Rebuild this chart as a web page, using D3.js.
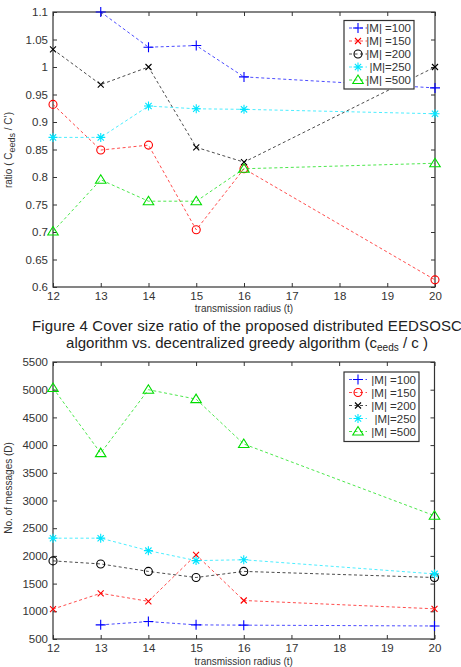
<!DOCTYPE html>
<meta charset='utf-8'>
<style>
	body { margin: 0; background: #fff; }
	svg { display: block; font-family: 'Liberation Sans', Arial, sans-serif; }
</style>
<body>
<div id='container'></div>
<script src='https://cdn.jsdelivr.net/npm/d3@7'></script>
<script>
	// transmission radius (t)
	const radii = [ 12, 13, 14, 15, 16, 20 ];
	const seriesNames = [ '|M| =100', '|M| =150', '|M| =200', '|M|=250', '|M| =500' ];

	// cover size ratio (top panel)
	const ratio100 = [ null, 1.1, 1.036, 1.039, 0.982, 0.962 ];
	const ratio150 = [ 0.932, 0.849, 0.858, 0.704, 0.815, 0.613 ];
	const ratio200 = [ 1.032, 0.968, 1.0, 0.854, 0.827, 1.0 ];
	const ratio250 = [ 0.872, 0.872, 0.929, 0.924, 0.923, 0.915 ];
	const ratio500 = [ 0.701, 0.795, 0.756, 0.756, 0.815, 0.825 ];
	const ratioTicks = [ 0.6, 0.65, 0.7, 0.75, 0.8, 0.85, 0.9, 0.95, 1, 1.05, 1.1 ];

	// number of messages (bottom panel)
	const msg100 = [ null, 755, 815, 755, 750, 735 ];
	const msg150 = [ 1040, 1325, 1180, 2020, 1195, 1045 ];
	const msg200 = [ 1910, 1855, 1720, 1610, 1720, 1610 ];
	const msg250 = [ 2320, 2320, 2095, 1915, 1930, 1675 ];
	const msg500 = [ 5030, 3855, 5000, 4830, 4020, 2725 ];
	const msgTicks = [ 500, 1000, 1500, 2000, 2500, 3000, 3500, 4000, 4500, 5000, 5500 ];

	const xTicks = [ 12, 13, 14, 15, 16, 17, 18, 19, 20 ];
	const colors = [ '#0000ff', '#ff0000', '#000000', '#00e5ff', '#00dd00' ];

	const W = 461, H = 667;
	const svg = d3.select( '#container' ).append( 'svg' )
		.attr( 'width', W )
		.attr( 'height', H );

	const symbolPath = ( kind, s ) => {
		switch ( kind ) {
			case 'plus': return `M${-s},0H${s}M0,${-s}V${s}`;
			case 'x': return `M${-s},${-s}L${s},${s}M${-s},${s}L${s},${-s}`;
			case 'star': {
				const d = s * 0.7;
				return `M${-s},0H${s}M0,${-s}V${s}M${-d},${-d}L${d},${d}M${-d},${d}L${d},${-d}`;
			}
			case 'circle': return `M${s},0A${s},${s} 0 1,1 ${-s},0A${s},${s} 0 1,1 ${s},0Z`;
			case 'tri': return `M0,${-s}L${s * 1.05},${s * 0.7}L${-s * 1.05},${s * 0.7}Z`;
		}
	};
	const symbolSize = { plus: 5, x: 3, star: 4.5, circle: 4, tri: 5 };

	function drawPanel( cfg ) {
		const { top, bottom, left, right } = cfg;
		const g = svg.append( 'g' );

		const x = d3.scaleLinear().domain( [ 12, 20 ] ).range( [ left, right ] );
		const y = d3.scaleLinear().domain( cfg.yDomain ).range( [ bottom, top ] );

		// box
		g.append( 'rect' )
			.attr( 'x', left ).attr( 'y', top )
			.attr( 'width', right - left ).attr( 'height', bottom - top )
			.attr( 'fill', 'none' )
			.attr( 'stroke', '#333' )
			.attr( 'stroke-width', 1.2 );

		const tl = 4;
		const axisStyle = sel => {
			sel.select( '.domain' ).remove();
			sel.selectAll( 'line' ).attr( 'stroke', '#333' );
			sel.selectAll( 'text' )
				.attr( 'fill', '#333' )
				.style( 'font-size', '11.5px' )
				.style( 'font-family', "'Liberation Sans', Arial, sans-serif" );
		};

		g.append( 'g' )
			.attr( 'transform', `translate(0,${bottom})` )
			.call( d3.axisBottom( x ).tickValues( xTicks ).tickSizeInner( -tl ).tickSizeOuter( 0 ).tickPadding( 5 ).tickFormat( d3.format( 'd' ) ) )
			.call( axisStyle );
		g.append( 'g' )
			.attr( 'transform', `translate(0,${top})` )
			.call( d3.axisTop( x ).tickValues( xTicks ).tickSizeInner( -tl ).tickSizeOuter( 0 ).tickFormat( '' ) )
			.call( axisStyle );
		g.append( 'g' )
			.attr( 'transform', `translate(${left},0)` )
			.call( d3.axisLeft( y ).tickValues( cfg.yTicks ).tickSizeInner( -tl ).tickSizeOuter( 0 ).tickPadding( 5 ).tickFormat( cfg.yFormat ) )
			.call( axisStyle );
		g.append( 'g' )
			.attr( 'transform', `translate(${right},0)` )
			.call( d3.axisRight( y ).tickValues( cfg.yTicks ).tickSizeInner( -tl ).tickSizeOuter( 0 ).tickFormat( '' ) )
			.call( axisStyle );

		// x label
		g.append( 'text' )
			.attr( 'x', ( left + right ) / 2 )
			.attr( 'y', cfg.xLabelY )
			.attr( 'text-anchor', 'middle' )
			.attr( 'fill', '#333' )
			.style( 'font-size', '10px' )
			.text( 'transmission radius (t)' );

		// y label
		const yl = g.append( 'text' )
			.attr( 'transform', `translate(${cfg.yLabelX},${cfg.yLabelY}) rotate(-90)` )
			.attr( 'text-anchor', 'middle' )
			.attr( 'fill', '#333' )
			.style( 'font-size', '10px' );
		cfg.yLabel( yl );

		// series
		const line = d3.line()
			.defined( d => d.v != null )
			.x( d => x( d.t ) )
			.y( d => y( d.v ) );

		cfg.series.forEach( ( vals, i ) => {
			const pts = radii.map( ( t, j ) => ( { t, v: vals[ j ] } ) );
			g.append( 'path' )
				.datum( pts )
				.attr( 'd', line )
				.attr( 'fill', 'none' )
				.attr( 'stroke', colors[ i ] )
				.attr( 'stroke-opacity', 0.7 )
				.attr( 'stroke-width', 1 )
				.attr( 'stroke-dasharray', '3,2.5' );
			const m = cfg.markers[ i ];
			g.selectAll( null )
				.data( pts.filter( d => d.v != null ) )
				.join( 'path' )
				.attr( 'transform', d => `translate(${x( d.t )},${y( d.v )})` )
				.attr( 'd', symbolPath( m, symbolSize[ m ] ) )
				.attr( 'fill', 'none' )
				.attr( 'stroke', colors[ i ] )
				.attr( 'stroke-width', 1.1 );
		} );

		// legend
		const lg = cfg.legend;
		const leg = g.append( 'g' );
		leg.append( 'rect' )
			.attr( 'x', lg.x ).attr( 'y', lg.y )
			.attr( 'width', lg.w ).attr( 'height', lg.h )
			.attr( 'fill', '#fff' )
			.attr( 'stroke', '#333' )
			.attr( 'stroke-width', 1.2 );
		seriesNames.forEach( ( name, i ) => {
			const cy = lg.y + 7.5 + i * 13;
			leg.append( 'line' )
				.attr( 'x1', lg.x + 5 ).attr( 'x2', lg.x + 23 )
				.attr( 'y1', cy ).attr( 'y2', cy )
				.attr( 'stroke', colors[ i ] )
				.attr( 'stroke-opacity', 0.7 )
				.attr( 'stroke-dasharray', '3,2.5' );
			const m = lg.markers[ i ];
			leg.append( 'path' )
				.attr( 'transform', `translate(${lg.x + 14},${cy})` )
				.attr( 'd', symbolPath( m, symbolSize[ m ] ) )
				.attr( 'fill', 'none' )
				.attr( 'stroke', colors[ i ] )
				.attr( 'stroke-width', 1.1 );
			leg.append( 'text' )
				.attr( 'x', lg.x + lg.w - 3 )
				.attr( 'y', cy + 4 )
				.attr( 'text-anchor', 'end' )
				.attr( 'fill', '#333' )
				.style( 'font-size', '11.5px' )
				.text( name );
		} );
	}

	// top panel: cover size ratio
	drawPanel( {
		top: 12, bottom: 287, left: 53, right: 435,
		yDomain: [ 0.6, 1.1 ],
		yTicks: ratioTicks,
		yFormat: d => d3.format( '' )( +d.toFixed( 2 ) ),
		series: [ ratio100, ratio150, ratio200, ratio250, ratio500 ],
		markers: [ 'plus', 'circle', 'x', 'star', 'tri' ],
		legend: { x: 344, y: 20.5, w: 70, h: 68.5, markers: [ 'plus', 'x', 'circle', 'star', 'tri' ] },
		xLabelY: 312,
		yLabelX: 12, yLabelY: 150,
		yLabel: t => {
			t.append( 'tspan' ).text( 'ratio ( C' );
			t.append( 'tspan' ).attr( 'dy', 3 ).style( 'font-size', '9px' ).text( 'eeds' );
			t.append( 'tspan' ).attr( 'dy', -3 ).text( ' / C\u2019)' );
		},
	} );

	// caption
	const cap = svg.append( 'text' )
		.attr( 'fill', '#222' )
		.style( 'font-size', '15px' );
	cap.append( 'tspan' ).attr( 'x', 32 ).attr( 'y', 331 )
		.style( 'letter-spacing', '0.12px' )
		.text( 'Figure 4 Cover size ratio of the proposed distributed EEDSOSC' );
	const l2 = cap.append( 'tspan' ).attr( 'x', 247 ).attr( 'y', 348 ).attr( 'text-anchor', 'middle' );
	l2.append( 'tspan' ).text( 'algorithm vs. decentralized greedy algorithm (c' );
	l2.append( 'tspan' ).attr( 'dy', 3 ).style( 'font-size', '10px' ).text( 'eeds' );
	l2.append( 'tspan' ).attr( 'dy', -3 ).text( ' / c )' );

	// bottom panel: number of messages
	drawPanel( {
		top: 362, bottom: 639, left: 53, right: 434.5,
		yDomain: [ 500, 5500 ],
		yTicks: msgTicks,
		yFormat: d3.format( 'd' ),
		series: [ msg100, msg150, msg200, msg250, msg500 ],
		markers: [ 'plus', 'x', 'circle', 'star', 'tri' ],
		legend: { x: 344, y: 372, w: 75, h: 69.5, markers: [ 'plus', 'circle', 'x', 'star', 'tri' ] },
		xLabelY: 665,
		yLabelX: 12, yLabelY: 488,
		yLabel: t => t.text( 'No. of messages (D)' ),
	} );
</script>
</body>
